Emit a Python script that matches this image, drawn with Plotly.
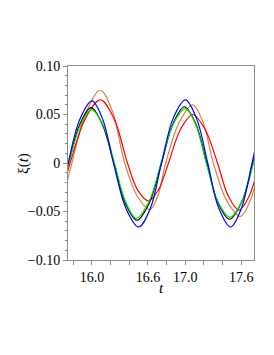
import plotly.graph_objects as go

# Readings from the reference picture (t, xi) at extrema, zero crossings and mid points
t_blue = [15.70, 15.745, 15.87, 16.00, 16.115, 16.23, 16.365, 16.50, 16.625, 16.745, 16.87, 17.00, 17.12, 17.24, 17.36, 17.485, 17.60, 17.715, 17.78]
xi_blue = [-0.018, 0.000, 0.045, 0.064, 0.045, 0.000, -0.047, -0.066, -0.047, 0.000, 0.046, 0.065, 0.046, 0.000, -0.047, -0.066, -0.047, 0.000, 0.028]

t_black = [15.70, 15.75, 15.87, 15.99, 16.11, 16.235, 16.36, 16.48, 16.61, 16.745, 16.87, 16.99, 17.11, 17.23, 17.35, 17.475, 17.60, 17.725, 17.78]
xi_black = [-0.018, 0.000, 0.040, 0.057, 0.040, 0.000, -0.042, -0.059, -0.042, 0.000, 0.041, 0.058, 0.041, 0.000, -0.041, -0.058, -0.041, 0.000, 0.022]

t_green = [15.70, 15.752, 15.875, 15.995, 16.12, 16.24, 16.36, 16.475, 16.61, 16.74, 16.87, 17.00, 17.11, 17.225, 17.35, 17.48, 17.605, 17.73, 17.78]
xi_green = [-0.019, 0.000, 0.039, 0.055, 0.039, 0.000, -0.040, -0.057, -0.040, 0.000, 0.040, 0.056, 0.040, 0.000, -0.040, -0.056, -0.040, 0.000, 0.018]

t_orange = [15.70, 15.785, 15.94, 16.09, 16.22, 16.35, 16.485, 16.62, 16.705, 16.79, 16.935, 17.08, 17.19, 17.30, 17.445, 17.59, 17.695, 17.80]
xi_orange = [-0.033, 0.000, 0.053, 0.075, 0.053, 0.000, -0.034, -0.048, -0.034, 0.000, 0.042, 0.060, 0.042, 0.000, -0.039, -0.055, -0.039, 0.000]

t_red = [15.70, 15.766, 15.93, 16.09, 16.235, 16.38, 16.49, 16.605, 16.71, 16.82, 16.95, 17.08, 17.21, 17.345, 17.46, 17.575, 17.685, 17.79]
xi_red = [-0.022, 0.000, 0.046, 0.065, 0.046, 0.000, -0.028, -0.039, -0.028, 0.000, 0.035, 0.050, 0.035, 0.000, -0.034, -0.0485, -0.034, 0.000]

x_tickvals = [15.8, 16.0, 16.2, 16.4, 16.6, 16.8, 17.0, 17.2, 17.4, 17.6]
x_ticktext = ["", "16.0", "", "", "16.6", "", "17.0", "", "", "17.6"]
y_tickvals = [-0.10, -0.05, 0.0, 0.05, 0.10]
y_ticktext = ["\u22120.10", "\u22120.05", "0", "0.05", "0.10"]

series = [
    (t_orange, xi_orange, "#d2874a"),
    (t_red, xi_red, "#ff0000"),
    (t_black, xi_black, "#000000"),
    (t_green, xi_green, "#00e000"),
    (t_blue, xi_blue, "#0000ff"),
]

fig = go.Figure()
for tx, yv, col in series:
    fig.add_trace(go.Scatter(x=tx, y=yv, mode="lines",
                             line=dict(color=col, width=1.2, shape="spline", smoothing=1.0),
                             showlegend=False, hoverinfo="skip"))

serif = "Liberation Serif, Times New Roman, serif"
font = dict(family=serif, size=14, color="black")
axcol = "#8c8c8c"
# the page adds an 8px body margin, so the figure is drawn 8px smaller
fig.update_layout(
    width=266, height=347,
    margin=dict(l=60, r=20, t=58, b=95),
    paper_bgcolor="white", plot_bgcolor="white",
    font=font,
    showlegend=False,
)
fig.update_xaxes(range=[15.743, 17.736], tickvals=x_tickvals, ticktext=x_ticktext,
                 ticks="outside", ticklen=4, tickcolor=axcol, showgrid=False, zeroline=False,
                 showline=True, linecolor=axcol, linewidth=1, mirror=True,
                 tickfont=font)
fig.update_yaxes(range=[-0.10, 0.10], tickvals=y_tickvals, ticktext=y_ticktext,
                 ticks="outside", ticklen=4, tickcolor=axcol, showgrid=False, zeroline=False,
                 showline=True, linecolor=axcol, linewidth=1, mirror=True,
                 minor=dict(dtick=0.01, ticks="outside", ticklen=2, tickcolor=axcol),
                 tickfont=font)
fig.add_annotation(text="<i>t</i>", xref="paper", yref="paper", x=0.5, y=-0.144,
                   xanchor="center", yanchor="middle", showarrow=False,
                   font=dict(family=serif, size=15, color="black"))
fig.add_annotation(text="\u03be(<i>t</i>)", xref="paper", yref="paper", x=-0.242, y=0.5,
                   xanchor="center", yanchor="middle", textangle=-90, showarrow=False,
                   font=dict(family=serif, size=15, color="black"))

fig.write_html("out.html")
